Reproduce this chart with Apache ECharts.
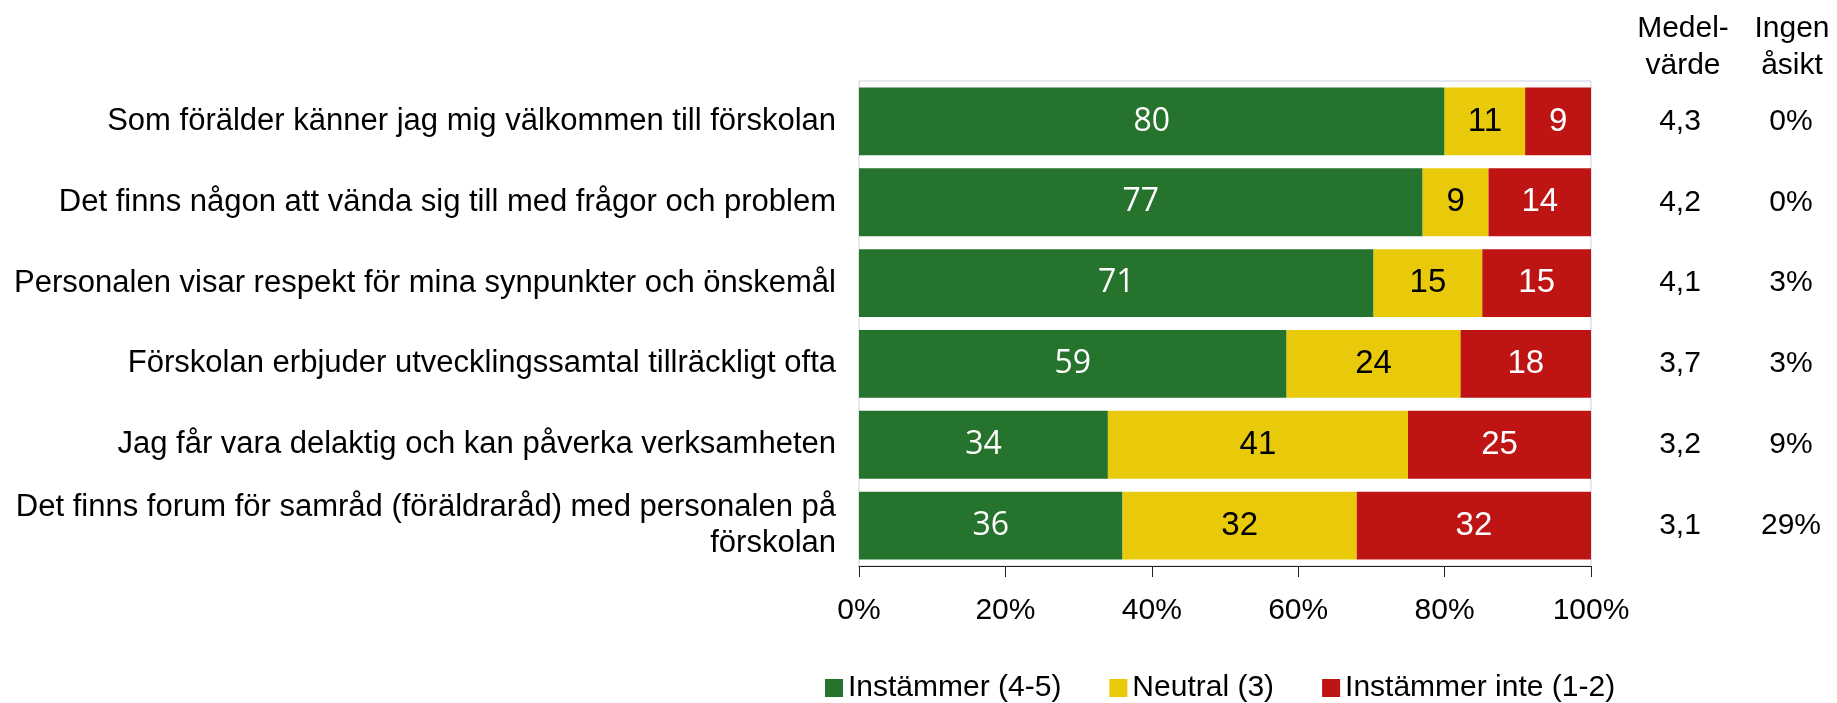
<!DOCTYPE html>
<html><head><meta charset="utf-8">
<script src="https://cdn.jsdelivr.net/npm/echarts@6/dist/echarts.min.js"></script>
<style>html,body{margin:0;padding:0;background:#fff}#c{width:1837px;height:703px}</style>
</head><body><div id="c"></div>
<script>
const categories = [
  'Som förälder känner jag mig välkommen till förskolan',
  'Det finns någon att vända sig till med frågor och problem',
  'Personalen visar respekt för mina synpunkter och önskemål',
  'Förskolan erbjuder utvecklingssamtal tillräckligt ofta',
  'Jag får vara delaktig och kan påverka verksamheten',
  'Det finns forum för samråd (föräldraråd) med personalen på\nförskolan'
];
const agree = [80, 77, 71, 59, 34, 36];
const neutral = [11, 9, 15, 24, 41, 32];
const disagree = [9, 14, 15, 18, 25, 32];
const meanValues = ['4,3', '4,2', '4,1', '3,7', '3,2', '3,1'];
const noOpinion = ['0%', '0%', '3%', '3%', '9%', '29%'];
const seriesNames = ['Instämmer (4-5)', 'Neutral (3)', 'Instämmer inte (1-2)'];
const xTicks = [0, 20, 40, 60, 80, 100];

const FONT = "'Liberation Sans', Arial, sans-serif";
const totals = agree.map((v, i) => v + neutral[i] + disagree[i]);
const norm = arr => arr.map((v, i) => ({ value: v / totals[i] * 100, raw: v }));

const chart = echarts.init(document.getElementById('c'));
const labelCfg = (color, family, size) => ({
  show: true, position: 'inside', color: color, fontSize: size, fontFamily: family,
  formatter: p => p.data.raw
});
const colors = ['#26732E', '#E8CA0B', '#BE1414'];
const sets = [agree, neutral, disagree];
const labelColors = ['#fff', '#000', '#fff'];
const labelFonts = ["'Open Sans', sans-serif", FONT, FONT];
const labelSizes = [32, 33, 33];

chart.setOption({
  animation: false,
  textStyle: { fontFamily: FONT },
  grid: { left: 859, right: 246, top: 81, height: 485, show: true, borderColor: '#c9d1dd', borderWidth: 1, containLabel: false },
  xAxis: {
    type: 'value', min: 0, max: 100, interval: 20,
    axisLine: { show: true, lineStyle: { color: '#222', width: 1 } },
    axisTick: { show: true, inside: false, length: 11, lineStyle: { color: '#222' } },
    splitLine: { show: false },
    axisLabel: { fontSize: 30, color: '#000', margin: 30, fontFamily: FONT,
      formatter: v => xTicks.includes(v) ? v + '%' : '' }
  },
  yAxis: [
    { type: 'category', data: categories, inverse: true,
      axisLine: { show: false }, axisTick: { show: false },
      axisLabel: { fontSize: 31, color: '#000', margin: 23, align: 'right', lineHeight: 36, fontFamily: FONT } },
    { type: 'category', data: meanValues, inverse: true, position: 'right',
      axisLine: { show: false }, axisTick: { show: false },
      axisLabel: { fontSize: 30, color: '#000', margin: 89, align: 'center', fontFamily: FONT } },
    { type: 'category', data: noOpinion, inverse: true, position: 'right',
      axisLine: { show: false }, axisTick: { show: false },
      axisLabel: { fontSize: 30, color: '#000', margin: 200, align: 'center', fontFamily: FONT } }
  ],
  legend: {
    left: 820, top: 668, itemWidth: 18, itemHeight: 18, itemGap: 48, icon: 'rect',
    textStyle: { fontSize: 30, color: '#000', fontFamily: FONT },
    data: seriesNames
  },
  graphic: [
    { type: 'text', x: 1683, y: 10, style: { text: 'Medel-\nvärde', align: 'center', lineHeight: 37, fill: '#000', font: '30px ' + FONT } },
    { type: 'text', x: 1792, y: 10, style: { text: 'Ingen\nåsikt', align: 'center', lineHeight: 37, fill: '#000', font: '30px ' + FONT } }
  ],
  series: seriesNames.map((name, k) => ({
    name: name, type: 'bar', stack: 'all', barCategoryGap: '16%',
    itemStyle: { color: colors[k] },
    label: labelCfg(labelColors[k], labelFonts[k], labelSizes[k]),
    data: norm(sets[k])
  }))
});
</script></body></html>
